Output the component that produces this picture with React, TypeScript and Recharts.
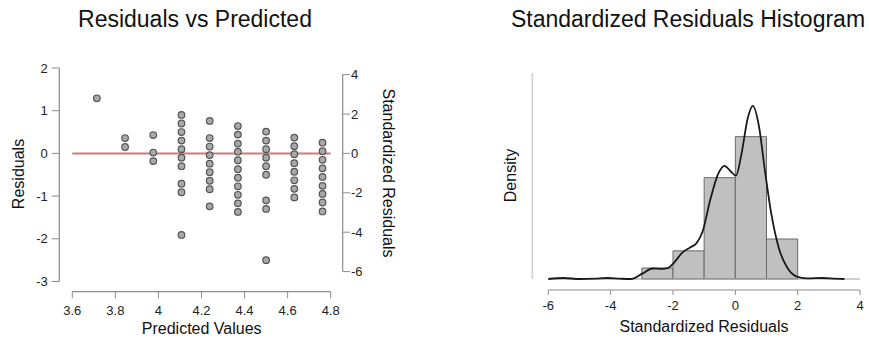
import React from 'react';
import {
  ScatterChart, Scatter, XAxis, YAxis, ReferenceLine,
  ComposedChart, Line, ReferenceArea,
} from 'recharts';

// ---------- data ----------
const predictedLevels = [3.714, 3.845, 3.976, 4.107, 4.238, 4.369, 4.5, 4.631, 4.762];
const residualsByLevel = [
  [1.29],
  [0.36, 0.15],
  [0.43, 0.02, -0.18],
  [0.9, 0.7, 0.5, 0.3, 0.1, -0.1, -0.3, -0.71, -0.91, -1.91],
  [0.76, 0.36, 0.16, -0.04, -0.24, -0.44, -0.64, -0.84, -1.24],
  [0.64, 0.44, 0.23, 0.04, -0.16, -0.37, -0.57, -0.77, -0.97, -1.17, -1.37],
  [0.51, 0.3, 0.1, -0.1, -0.3, -0.5, -1.1, -1.3, -2.5],
  [0.37, 0.17, -0.02, -0.23, -0.43, -0.63, -0.83, -1.03],
  [0.25, 0.05, -0.15, -0.35, -0.55, -0.76, -0.95, -1.15, -1.36],
];
const residualTicks = [-3, -2, -1, 0, 1, 2];
const standardizedTicks = [-6, -4, -2, 0, 2, 4];
const predictedTicks = [3.6, 3.8, 4.0, 4.2, 4.4, 4.6, 4.8];

const binStarts = [-3, -2, -1, 0, 1];
const binDensities = [0.0325, 0.083, 0.299, 0.42, 0.118];
const densityX = [-6, -5.5, -5, -4.5, -4.1, -3.7, -3.35, -3, -2.65, -2.35, -2.15, -1.95, -1.7, -1.45, -1.25, -1.05, -0.8, -0.55, -0.35, -0.15, 0.02, 0.2, 0.4, 0.56, 0.75, 0.95, 1.15, 1.4, 1.65, 1.95, 2.3, 2.8, 3.2, 3.5];
const densityY = [0, 0.003, 0, 0.001, 0.003, 0.001, 0, 0.015, 0.031, 0.03, 0.033, 0.05, 0.078, 0.093, 0.105, 0.14, 0.235, 0.31, 0.334, 0.318, 0.305, 0.37, 0.475, 0.511, 0.455, 0.32, 0.195, 0.09, 0.036, 0.008, 0.002, 0.003, 0.001, 0];
const stdTicks = [-6, -4, -2, 0, 2, 4];

// ---------- derived tables ----------
const scatterData = predictedLevels.flatMap((x, i) =>
  residualsByLevel[i].map((y) => ({ x, y }))
);
const densityData = densityX.map((x, i) => ({ x, d: densityY[i] }));

const FONT = 'Liberation Sans, Arial, sans-serif';
const AXIS = '#8c8c8c';
const TXT = '#222';

const LX_DOMAIN: [number, number] = [3.5396, 4.8557];
const LY_DOMAIN: [number, number] = [-3.239, 2];
const RY_DOMAIN: [number, number] = [-7.02, 4.335];

const HX_DOMAIN: [number, number] = [-6.513, 4];
const HY_DOMAIN: [number, number] = [-0.03246, 0.6078];

const Dot = (p: any) => (
  <circle cx={p.cx} cy={p.cy} r={3.3} fill="#a9a9a9" stroke="#555" strokeWidth={1.2} />
);

export default function App() {
  const tickStyle = { fontSize: 13, fill: TXT, fontFamily: FONT };
  return (
    <div style={{ position: 'fixed', left: 0, top: 0, width: 869, height: 342, background: '#fff' }}>
      <div style={{ position: 'absolute', left: 0, top: 0 }}>
        <ScatterChart width={430} height={342} margin={{ top: 68, right: 0, bottom: 0, left: 0 }}>
          <XAxis
            type="number"
            dataKey="x"
            domain={LX_DOMAIN}
            ticks={predictedTicks}
            allowDataOverflow
            axisLine={false}
            tickLine={{ stroke: AXIS }}
            tickSize={6.6}
            tickMargin={7}
            height={50.3}
            tick={tickStyle}
            tickFormatter={(v: number) => String(Number(v.toFixed(1)))}
          />
          <YAxis
            yAxisId="left"
            type="number"
            dataKey="y"
            domain={LY_DOMAIN}
            ticks={residualTicks}
            allowDataOverflow
            axisLine={false}
            tickLine={{ stroke: AXIS }}
            tickSize={7.6}
            tickMargin={4}
            width={59.3}
            tick={tickStyle}
          />
          <YAxis
            yAxisId="right"
            orientation="right"
            type="number"
            domain={RY_DOMAIN}
            ticks={standardizedTicks}
            allowDataOverflow
            axisLine={false}
            tickLine={{ stroke: AXIS }}
            tickSize={7.3}
            tickMargin={1}
            width={87.3}
            tick={tickStyle}
          />
          <ReferenceLine yAxisId="left" ifOverflow="visible" stroke={AXIS} strokeWidth={1.2}
            segment={[{ x: 3.6, y: LY_DOMAIN[0] }, { x: 4.8, y: LY_DOMAIN[0] }]} />
          <ReferenceLine yAxisId="left" ifOverflow="visible" stroke={AXIS} strokeWidth={1.2}
            segment={[{ x: LX_DOMAIN[0], y: 2 }, { x: LX_DOMAIN[0], y: -3 }]} />
          <ReferenceLine yAxisId="right" ifOverflow="visible" stroke={AXIS} strokeWidth={1.2}
            segment={[{ x: LX_DOMAIN[1], y: 4 }, { x: LX_DOMAIN[1], y: -6 }]} />
          <Scatter yAxisId="left" data={scatterData} shape={Dot} isAnimationActive={false} />
          <ReferenceLine yAxisId="left" ifOverflow="visible" stroke="#cf7b7b" strokeWidth={2}
            segment={[{ x: 3.6, y: 0 }, { x: 4.8, y: 0 }]} />
        </ScatterChart>
      </div>
      <div style={{ position: 'absolute', left: 430, top: 0 }}>
        <ComposedChart width={439} height={342} data={densityData} margin={{ top: 73, right: 9, bottom: 0, left: 0 }}>
          <XAxis
            type="number"
            dataKey="x"
            domain={HX_DOMAIN}
            ticks={stdTicks}
            allowDataOverflow
            axisLine={false}
            tickLine={{ stroke: AXIS }}
            tickSize={5}
            tickMargin={5.4}
            height={52}
            tick={tickStyle}
          />
          <YAxis
            type="number"
            domain={HY_DOMAIN}
            allowDataOverflow
            width={102.3}
            tick={false}
            axisLine={false}
            tickLine={false}
          />
          <ReferenceLine ifOverflow="visible" stroke={AXIS} strokeWidth={1.2}
            segment={[{ x: -6, y: HY_DOMAIN[0] }, { x: 4, y: HY_DOMAIN[0] }]} />
          <ReferenceLine ifOverflow="visible" stroke="#cfcfcf" strokeWidth={1.5}
            segment={[{ x: HX_DOMAIN[0], y: 0 }, { x: HX_DOMAIN[0], y: HY_DOMAIN[1] }]} />
          <ReferenceLine ifOverflow="visible" stroke="#a0a0a0" strokeWidth={1.2}
            segment={[{ x: -6, y: 0 }, { x: 4, y: 0 }]} />
          {binStarts.map((s, i) => (
            <ReferenceArea key={s} x1={s} x2={s + 1} y1={0} y2={binDensities[i]}
              fill="#c0c0c0" fillOpacity={1} stroke="#6a6a6a" strokeWidth={1} ifOverflow="visible" />
          ))}
          <Line type="monotone" dataKey="d" stroke="#1a1a1a" strokeWidth={1.8} dot={false}
            activeDot={false} isAnimationActive={false} />
        </ComposedChart>
      </div>
      <svg width={869} height={342} style={{ position: 'absolute', left: 0, top: 0, pointerEvents: 'none' }}>
        <g fontFamily={FONT} fill="#111">
          <text x={195} y={26.7} fontSize={23} textAnchor="middle">Residuals vs Predicted</text>
          <text x={688} y={26.7} fontSize={23} textAnchor="middle">Standardized Residuals Histogram</text>
          <text x={18} y={174} fontSize={16} textAnchor="middle" dominantBaseline="central"
            transform="rotate(-90,18,174)">Residuals</text>
          <text x={388.3} y={173} fontSize={16} textAnchor="middle" dominantBaseline="central"
            transform="rotate(90,388.3,173)">Standardized Residuals</text>
          <text x={201.7} y={328.3} fontSize={16} textAnchor="middle" dominantBaseline="central">Predicted Values</text>
          <text x={510} y={175.5} fontSize={16} textAnchor="middle" dominantBaseline="central"
            transform="rotate(-90,510,175.5)">Density</text>
          <text x={704} y={326.7} fontSize={16} textAnchor="middle" dominantBaseline="central">Standardized Residuals</text>
        </g>
      </svg>
    </div>
  );
}
